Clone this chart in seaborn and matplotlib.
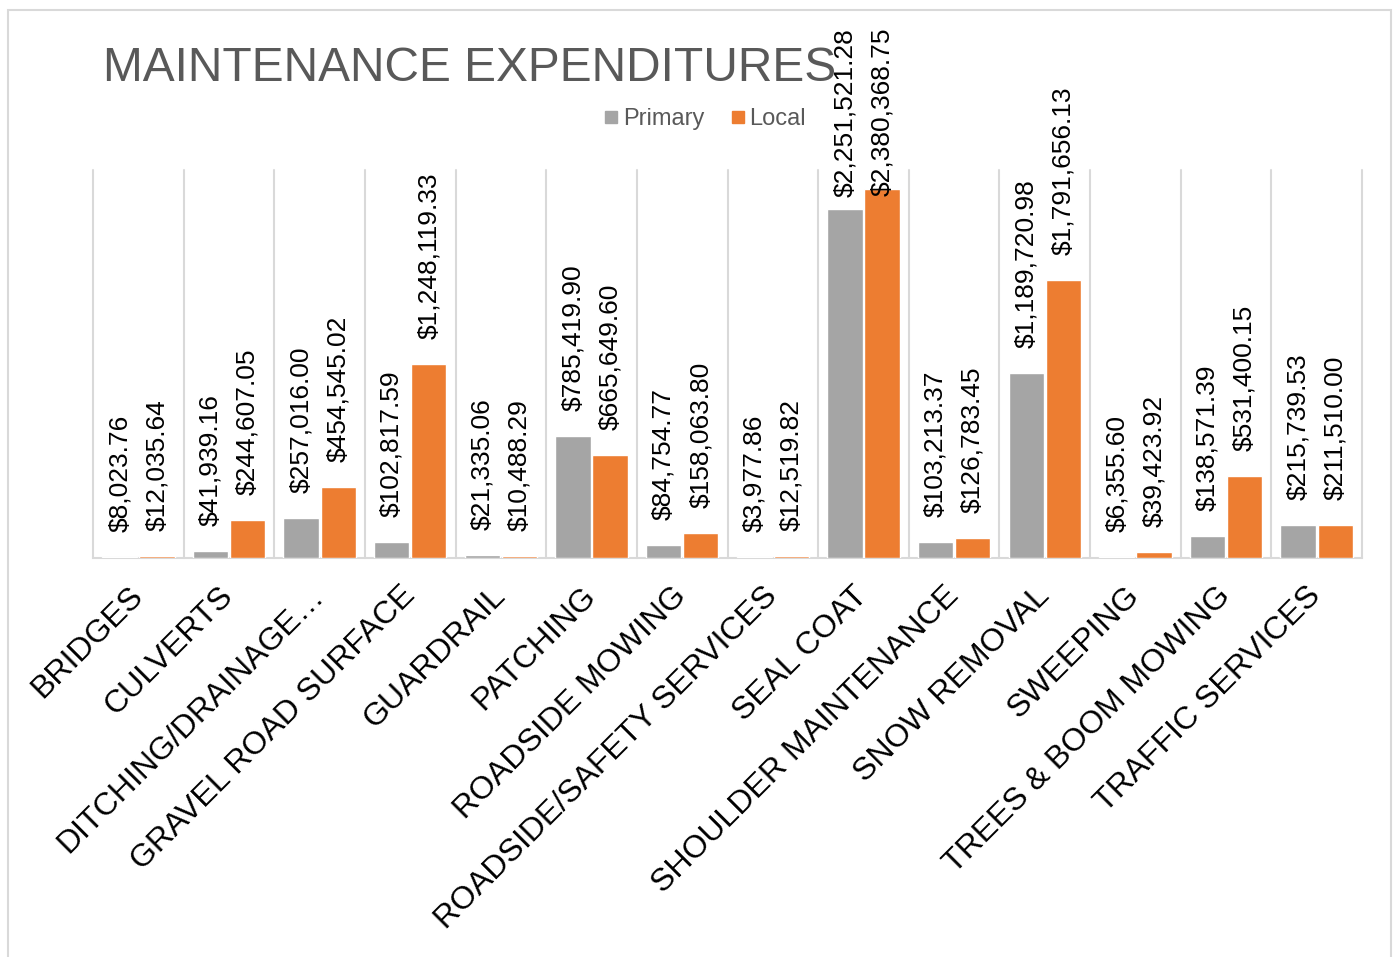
import numpy as np
import pandas as pd
import matplotlib
matplotlib.use("Agg")
import matplotlib.pyplot as plt
from matplotlib.patches import Rectangle
from matplotlib.lines import Line2D
import seaborn as sns

categories = ["BRIDGES", "CULVERTS", "DITCHING/DRAINAGE…", "GRAVEL ROAD SURFACE",
              "GUARDRAIL", "PATCHING", "ROADSIDE MOWING", "ROADSIDE/SAFETY SERVICES",
              "SEAL COAT", "SHOULDER MAINTENANCE", "SNOW REMOVAL", "SWEEPING",
              "TREES & BOOM MOWING", "TRAFFIC SERVICES"]
primary = [8023.76, 41939.16, 257016.00, 102817.59, 21335.06, 785419.90, 84754.77,
           3977.86, 2251521.28, 103213.37, 1189720.98, 6355.60, 138571.39, 215739.53]
local = [12035.64, 244607.05, 454545.02, 1248119.33, 10488.29, 665649.60, 158063.80,
         12519.82, 2380368.75, 126783.45, 1791656.13, 39423.92, 531400.15, 211510.00]
series = ["Primary", "Local"]
title = "MAINTENANCE EXPENDITURES"

GREY = "#A5A5A5"
ORANGE = "#ED7D31"
GRID = "#D9D9D9"
TXT = "#595959"

sns.set_style("white")
plt.rcParams["font.family"] = ["Liberation Sans", "DejaVu Sans"]

df = pd.DataFrame({
    "category": categories * 2,
    "value": primary + local,
    "series": [series[0]] * len(categories) + [series[1]] * len(categories),
})

W, H = 1396, 957
fig = plt.figure(figsize=(W / 100, H / 100), dpi=100)
fig.patch.set_facecolor("white")
ax = fig.add_axes([93 / W, 1 - 558 / H, (1362 - 93) / W, (558 - 170) / H])

sns.barplot(data=df, x="category", y="value", hue="series", order=categories,
            hue_order=series, palette=[GREY, ORANGE], saturation=1, width=0.82,
            gap=0.05, errorbar=None, ax=ax, zorder=2)

ax.set_xlim(-0.5, len(categories) - 0.5)
ax.set_ylim(0, 2.5e6)
ax.set_xlabel("")
ax.set_ylabel("")
ax.set_yticks([])
for s in ["left", "right", "top"]:
    ax.spines[s].set_visible(False)
ax.spines["bottom"].set_color(GRID)
ax.spines["bottom"].set_linewidth(1.5)
ax.spines["bottom"].set_zorder(0.5)

ax.set_xticks(range(len(categories)))
ax.set_xticklabels(categories, rotation=45, ha="right", va="center",
                   rotation_mode="anchor", fontsize=23, color="black")
ax.tick_params(axis="x", which="major", length=0, pad=24)
ax.grid(False)
# category separators
for b in np.arange(-0.5, len(categories), 1):
    ax.axvline(b, color=GRID, linewidth=1.5, zorder=0, clip_on=False)

if ax.get_legend() is not None:
    ax.get_legend().remove()

labels_all = []
for cont in ax.containers:
    vals = [p.get_height() for p in cont]
    labs = ax.bar_label(cont, labels=[f"${v:,.2f}" for v in vals], padding=18,
                        rotation=90, fontsize=19, color="black")
    labels_all.extend(labs)

# keep labels within the chart area (as the reference does)
fig.canvas.draw()
r = fig.canvas.get_renderer()
limit = H - 28
for t in labels_all:
    bb = t.get_window_extent(r)
    if bb.y1 > limit:
        shift_pt = (bb.y1 - limit) * 72 / 100
        x0, y0 = t.xyann
        t.xyann = (x0, y0 - shift_pt)

fig.text(103 / W, 1 - 81 / H, title, ha="left", va="baseline", fontsize=34.5,
         color=TXT)

handles = [Line2D([], [], marker="s", linestyle="none", markersize=9,
                  markerfacecolor=c, markeredgecolor=c) for c in (GREY, ORANGE)]
fig.legend(handles, series, loc="center", bbox_to_anchor=(704 / W, 1 - 119 / H),
           ncol=2, frameon=False, fontsize=17, labelcolor=TXT, handletextpad=0.1,
           columnspacing=1.0, handlelength=0.8)

fig.add_artist(Rectangle((8 / W, -0.01), (1391 - 8) / W, (H - 10) / H + 0.01,
                         transform=fig.transFigure, fill=False, edgecolor=GRID,
                         linewidth=1.5))

fig.savefig("out.png", dpi=100)
